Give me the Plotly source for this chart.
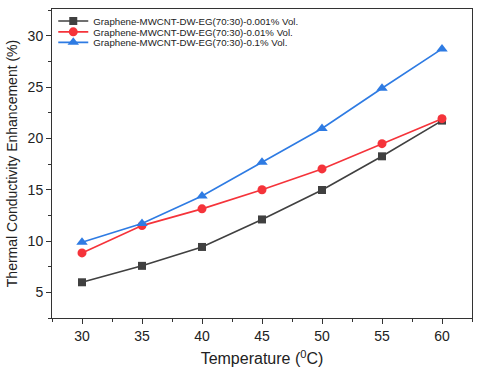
import plotly.graph_objects as go

temperature = [30, 35, 40, 45, 50, 55, 60]
enh_0001 = [5.98, 7.58, 9.42, 12.1, 14.97, 18.25, 21.73]
enh_001 = [8.84, 11.5, 13.13, 14.99, 17.02, 19.48, 21.92]
enh_01 = [9.87, 11.71, 14.38, 17.67, 20.96, 24.88, 28.71]

series = [
    ("Graphene-MWCNT-DW-EG(70:30)-0.001% Vol.", enh_0001, "#404040", "square", 8),
    ("Graphene-MWCNT-DW-EG(70:30)-0.01% Vol.", enh_001, "#f5333a", "circle", 9),
    ("Graphene-MWCNT-DW-EG(70:30)-0.1% Vol.", enh_01, "#2e7be3", "triangle-up", 10),
]
legend_names = ["legend", "legend2", "legend3"]
legend_rows = [0.961, 0.926, 0.892]

fig = go.Figure()
for (name, values, color, symbol, size), lg in zip(series, legend_names):
    fig.add_trace(go.Scatter(
        x=temperature, y=values, name=name, mode="lines+markers",
        line=dict(color=color, width=1.6),
        marker=dict(color=color, symbol=symbol, size=size),
        legend=lg,
    ))

axis_common = dict(
    showline=True, linecolor="#333333", linewidth=1, mirror=True,
    ticks="outside", ticklen=5, tickcolor="#333333",
    showgrid=False, zeroline=False, automargin=False,
    tickfont=dict(size=14, color="#222222"),
)

fig.update_xaxes(
    range=[27.5, 62.5], tickvals=temperature,
    minor=dict(ticks="outside", dtick=2.5, tick0=27.5, ticklen=3, tickcolor="#333333"),
    title=dict(text="Temperature (<sup>0</sup>C)", font=dict(size=16, color="#222222"), standoff=10),
    **axis_common,
)
fig.update_yaxes(
    range=[2.5, 32.6], tickvals=[5, 10, 15, 20, 25, 30],
    minor=dict(ticks="outside", dtick=2.5, tick0=2.5, ticklen=3, tickcolor="#333333"),
    title=dict(text="Thermal Conductivity Enhancement (%)", font=dict(size=14, color="#222222"), standoff=6),
    **axis_common,
)

legend_style = dict(
    x=0.003, xanchor="left", yanchor="middle",
    font=dict(size=9.7, color="#222222"),
    bgcolor="rgba(0,0,0,0)", borderwidth=0, itemwidth=30,
)

fig.update_layout(
    width=480, height=370,
    margin=dict(l=52, r=8, t=7, b=52),
    paper_bgcolor="white", plot_bgcolor="white",
    font=dict(family="Liberation Sans, Arial, sans-serif", color="#222222"),
    showlegend=True,
    legend=dict(y=legend_rows[0], **legend_style),
    legend2=dict(y=legend_rows[1], **legend_style),
    legend3=dict(y=legend_rows[2], **legend_style),
)

fig.write_html(
    "out.html",
    config={"displayModeBar": False},
    post_script="document.body.style.margin='0';",
)
